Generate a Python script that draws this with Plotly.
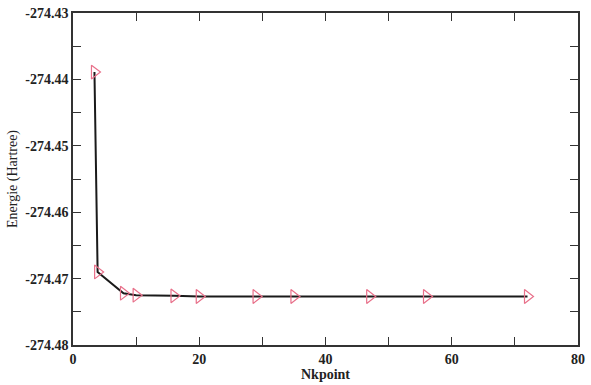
import plotly.graph_objects as go

nkpoint = [3.4, 3.9, 8, 10, 16, 20, 29, 35, 47, 56, 72]
energie = [-274.4389, -274.4690, -274.4722, -274.4725, -274.4726, -274.4727,
           -274.4727, -274.4727, -274.4727, -274.4727, -274.4727]

y_ticks = [-274.48, -274.47, -274.46, -274.45, -274.44, -274.43]
y_labels = ["-274.48", "-274.47", "-274.46", "-274.45", "-274.44", "-274.43"]
x_ticks = [0, 20, 40, 60, 80]
x_labels = ["0", "20", "40", "60", "80"]

fig = go.Figure()
fig.add_trace(go.Scatter(
    x=nkpoint, y=energie, mode="lines+markers",
    line=dict(color="#1a1a1a", width=2),
    marker=dict(symbol="triangle-right-open", size=12, color="#e8708a",
                line=dict(width=1.2, color="#e8708a")),
    showlegend=False,
))

axis_common = dict(showgrid=False, zeroline=False, showline=True,
                   linecolor="#333333", linewidth=1.5, mirror="allticks",
                   ticks="inside", ticklen=8, tickwidth=1.3, tickcolor="#333333",
                   tickfont=dict(family="Liberation Serif", size=14, color="#222222",
                                 weight="bold"))

fig.update_xaxes(range=[0, 80], tickmode="array", tickvals=x_ticks, ticktext=x_labels,
                 minor=dict(tickmode="array", tickvals=[10, 30, 50, 70], ticks="inside",
                            ticklen=8, tickwidth=1.3, tickcolor="#333333"),
                 title=dict(text="Nkpoint", font=dict(family="Liberation Serif", size=14,
                                                      color="#222222", weight="bold"), standoff=3),
                 **axis_common)
fig.update_yaxes(range=[-274.48, -274.43], tickmode="array", tickvals=y_ticks, ticktext=y_labels,
                 minor=dict(tickmode="array",
                            tickvals=[-274.475, -274.465, -274.455, -274.445, -274.435],
                            ticks="inside", ticklen=8, tickwidth=1.3, tickcolor="#333333"),
                 title=dict(text="Energie (Hartree)", font=dict(family="Liberation Serif", size=14,
                                                                 color="#222222"), standoff=4),
                 **axis_common)

fig.update_layout(width=591, height=385, margin=dict(l=73, r=9, t=6, b=29),
                  plot_bgcolor="white", paper_bgcolor="white")
fig.write_html("out.html")
